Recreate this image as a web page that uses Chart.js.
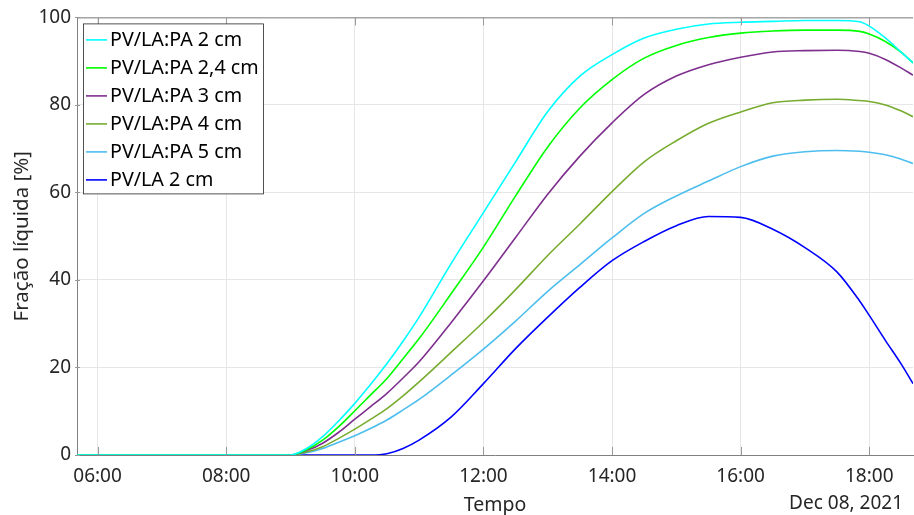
<!DOCTYPE html>
<html>
<head>
<meta charset="utf-8">
<script src="https://cdn.jsdelivr.net/npm/chart.js@4.4.1/dist/chart.umd.min.js"></script>
<style>
  html, body { margin: 0; padding: 0; background: #fff; }
  #wrap { width: 914px; height: 515px; }
</style>
</head>
<body>
<div id="wrap"><canvas id="meltChart"></canvas></div>
<script>
// time in decimal hours (Dec 08, 2021)
const hours = [5.68, 9.0, 9.25, 9.5, 9.75, 10.0, 10.25, 10.5, 10.75, 11.0, 11.5, 12.0, 12.5, 13.0,
               13.5, 14.0, 14.5, 15.0, 15.5, 16.0, 16.5, 17.0, 17.5, 17.85, 18.0, 18.25, 18.5, 18.68];

// liquid fraction [%]
const pa2cm   = [0, 0, 1.5, 4.2, 7.8, 11.8, 16.2, 20.9, 26.0, 31.5, 43.8, 55.4, 67.0, 78.5,
                 86.6, 91.5, 95.3, 97.3, 98.5, 98.9, 99.1, 99.3, 99.3, 99.0, 98.0, 95.3, 92.0, 89.6];
const pa24cm  = [0, 0, 1.2, 3.4, 6.5, 10.1, 13.8, 17.5, 22.0, 26.6, 36.9, 47.5, 59.2, 70.4,
                 79.3, 85.8, 90.7, 93.6, 95.4, 96.4, 96.9, 97.1, 97.1, 96.8, 96.2, 94.5, 92.0, 89.6];
const pa3cm   = [0, 0, 1.0, 2.7, 5.2, 8.2, 11.1, 14.1, 17.6, 21.3, 30.3, 39.8, 49.7, 59.6,
                 68.3, 75.9, 82.4, 86.6, 89.2, 90.9, 92.1, 92.4, 92.5, 92.2, 91.8, 90.4, 88.4, 86.8];
const pa4cm   = [0, 0, 0.7, 1.9, 3.8, 5.9, 8.2, 10.6, 13.5, 16.7, 23.5, 30.4, 37.8, 45.6,
                 52.8, 60.2, 67.0, 71.8, 75.8, 78.4, 80.5, 81.1, 81.3, 81.0, 80.8, 80.0, 78.6, 77.3];
const pa5cm   = [0, 0, 0.5, 1.5, 2.9, 4.4, 6.1, 8.0, 10.3, 12.7, 18.3, 24.2, 30.6, 37.4,
                 43.5, 49.6, 55.2, 59.2, 62.6, 65.9, 68.3, 69.3, 69.6, 69.4, 69.2, 68.6, 67.6, 66.6];
const la2cm   = [0, 0, 0, 0, 0, 0, 0, 0.3, 1.5, 3.4, 8.7, 16.3, 24.3, 31.5,
                 38.3, 44.4, 48.8, 52.4, 54.5, 54.3, 51.6, 47.4, 41.8, 35.2, 31.9, 26.2, 20.7, 16.3];

const seriesNames = ['PV/LA:PA 2 cm', 'PV/LA:PA 2,4 cm', 'PV/LA:PA 3 cm',
                     'PV/LA:PA 4 cm', 'PV/LA:PA 5 cm', 'PV/LA 2 cm'];
const xTicks = [6, 8, 10, 12, 14, 16, 18];
const yTicks = [0, 20, 40, 60, 80, 100];
const dateLabel = 'Dec 08, 2021';

Chart.defaults.font.family = '"Noto Sans", sans-serif';
Chart.defaults.color = '#262626';

function toPoints(values) {
    return hours.map((h, i) => ({ x: h, y: values[i] }));
}

function makeSet(label, values, color) {
    return {
        label: label,
        data: toPoints(values),
        borderColor: color,
        backgroundColor: color,
        borderWidth: 1.6,
        pointRadius: 0,
        fill: false,
        cubicInterpolationMode: 'monotone'
    };
}

// boxed legend in the upper-left corner, top border, inside ticks, date label
const decorPlugin = {
    id: 'decor',
    afterDatasetsDraw(chart) {
        const ctx = chart.ctx;
        const area = chart.chartArea;
        const xs = chart.scales.x, ys = chart.scales.y;
        ctx.save();
        // top box line
        ctx.strokeStyle = '#808080';
        ctx.lineWidth = 1;
        ctx.beginPath();
        ctx.moveTo(area.left, area.top + 0.5);
        ctx.lineTo(area.right, area.top + 0.5);
        ctx.stroke();
        // inside tick marks
        ctx.strokeStyle = '#999';
        xTicks.forEach(v => {
            const px = Math.round(xs.getPixelForValue(v)) + 0.5;
            ctx.beginPath();
            ctx.moveTo(px, area.bottom); ctx.lineTo(px, area.bottom - 8);
            ctx.moveTo(px, area.top); ctx.lineTo(px, area.top + 8);
            ctx.stroke();
        });
        yTicks.forEach(v => {
            const py = Math.round(ys.getPixelForValue(v)) + 0.5;
            ctx.beginPath();
            ctx.moveTo(area.left - 2, py); ctx.lineTo(area.left + 3, py);
            ctx.stroke();
        });

        // legend
        const sets = chart.data.datasets;
        const lx = area.left + 6, ly = area.top + 6;
        const rowH = 28;
        ctx.fillStyle = '#fff';
        ctx.fillRect(lx + 0.5, ly + 0.5, 180, 170);
        ctx.strokeStyle = '#262626';
        ctx.lineWidth = 0.8;
        ctx.strokeRect(lx + 0.5, ly + 0.5, 180, 170);
        ctx.font = '19.7px "Noto Sans", sans-serif';
        ctx.textAlign = 'left';
        ctx.textBaseline = 'middle';
        sets.forEach((ds, i) => {
            const cy = ly + 16.5 + i * rowH;
            ctx.strokeStyle = ds.borderColor;
            ctx.lineWidth = ds.borderWidth;
            ctx.beginPath();
            ctx.moveTo(lx + 3, cy);
            ctx.lineTo(lx + 24, cy);
            ctx.stroke();
            ctx.fillStyle = '#000';
            ctx.fillText(ds.label, lx + 27, cy);
        });

        // date under the last tick
        ctx.fillStyle = '#262626';
        ctx.font = '19px "Noto Sans", sans-serif';
        ctx.textAlign = 'right';
        ctx.textBaseline = 'middle';
        ctx.fillText(dateLabel, 903, 504);
        ctx.restore();
    }
};

const ctx = document.getElementById('meltChart').getContext('2d');
const meltChart = new Chart(ctx, {
    type: 'line',
    data: {
        datasets: [
            makeSet(seriesNames[0], pa2cm, '#00FFFF'),
            makeSet(seriesNames[1], pa24cm, '#00FF00'),
            makeSet(seriesNames[2], pa3cm, '#7E2F8E'),
            makeSet(seriesNames[3], pa4cm, '#77AC30'),
            makeSet(seriesNames[4], pa5cm, '#4DBEEE'),
            makeSet(seriesNames[5], la2cm, '#0000FF')
        ]
    },
    options: {
        responsive: true,
        maintainAspectRatio: false,
        animation: false,
        layout: { padding: { top: 16, right: 1, left: 0, bottom: 0 } },
        plugins: {
            tooltip: { enabled: false },
            legend: { display: false }
        },
        scales: {
            x: {
                type: 'linear',
                min: 5.68,
                max: 18.68,
                afterBuildTicks: scale => { scale.ticks = xTicks.map(v => ({ value: v })); },
                afterFit: scale => { scale.height = 60; },
                ticks: {
                    padding: 10,
                    font: { size: 19 },
                    callback: v => String(v).padStart(2, '0') + ':00'
                },
                grid: { color: '#e6e6e6', drawTicks: false },
                border: { color: '#808080' },
                title: {
                    display: true,
                    text: 'Tempo',
                    font: { size: 19.5 },
                    padding: { top: 0, bottom: -2 }
                }
            },
            y: {
                min: 0,
                max: 100,
                afterBuildTicks: scale => { scale.ticks = yTicks.map(v => ({ value: v })); },
                afterFit: scale => { scale.width = 77; },
                ticks: { padding: 6, font: { size: 19 } },
                grid: { color: '#e6e6e6', drawTicks: false },
                border: { color: '#808080' },
                title: {
                    display: true,
                    text: 'Fração líquida [%]',
                    font: { size: 20.5 },
                    padding: { top: 10, bottom: 0 }
                }
            }
        }
    },
    plugins: [decorPlugin]
});
</script>
</body>
</html>
